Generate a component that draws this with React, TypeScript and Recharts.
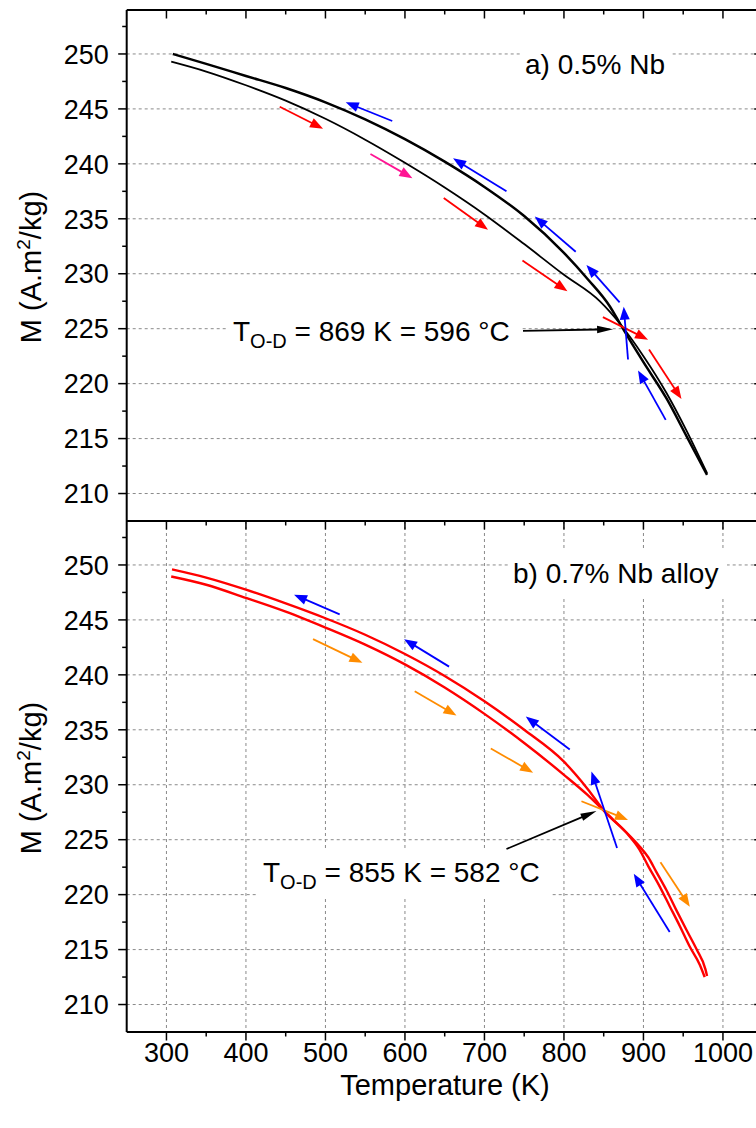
import React from 'react'
import { LineChart, Line, XAxis, YAxis, CartesianGrid, ReferenceLine } from 'recharts'

type Pt = [number, number]
type Seg = [Pt, Pt]

// M(T) loops, [temperature K, magnetisation A.m2/kg]
// a) 0.5% Nb
const heatingA: Pt[] = [
  [306, 249.3], [350, 248.4], [400, 247.15], [450, 245.75], [500, 244.1], [550, 242.2],
  [600, 240.1], [650, 237.85], [700, 235.4], [750, 232.7], [800, 229.9], [845, 227.5],
  [871, 225.4], [900, 222.5], [929, 219.15], [954, 215.75], [980, 211.85],
]
const coolingA: Pt[] = [
  [308, 250.0], [350, 249.1], [400, 248.0], [450, 246.9], [500, 245.6], [550, 244.05],
  [600, 242.25], [650, 240.2], [700, 237.9], [750, 235.25], [800, 231.9], [830, 229.5],
  [858, 227.0], [871, 225.4], [900, 221.95], [929, 218.65], [954, 215.25], [980, 211.7],
]

// b) 0.7% Nb alloy
const heatingB: Pt[] = [
  [306, 248.95], [350, 248.2], [400, 247.0], [450, 245.75], [500, 244.3], [550, 242.75],
  [600, 240.95], [650, 238.85], [700, 236.45], [750, 233.8], [800, 230.9], [830, 229.05],
  [852, 227.5], [878, 225.7], [895, 224.4], [906, 223.4], [916, 222.1], [929, 220.4],
  [942, 218.5], [954, 216.8], [967, 215.0], [978, 213.2], [980, 212.6],
]
const coolingB: Pt[] = [
  [307, 249.6], [350, 248.85], [400, 247.75], [450, 246.5], [500, 245.15], [550, 243.65],
  [600, 241.9], [650, 239.9], [700, 237.6], [750, 235.0], [800, 232.1], [830, 229.6],
  [852, 227.5], [879, 225.6], [895, 224.1], [906, 222.6], [920, 220.8], [933, 218.95],
  [946, 217.1], [958, 215.3], [971, 213.6], [977, 212.5],
]

// direction arrows, [from, to]
const redArrowsA: Seg[] = [
  [[442.5, 245.2], [497, 243.2]],
  [[648.8, 236.9], [704.5, 234.0]],
  [[747.8, 231.2], [804.4, 228.4]],
  [[849, 226.05], [905.8, 224.0]],
  [[907, 223.1], [947.8, 218.6]],
]
const pinkArrowsA: Seg[] = [[[556.6, 240.9], [609.4, 238.7]]]
const blueArrowsA: Seg[] = [
  [[584, 243.9], [525.5, 245.6]],
  [[727.7, 237.5], [660.5, 240.5]],
  [[814.8, 232.0], [763.3, 235.2]],
  [[870, 227.4], [828.3, 230.8]],
  [[880.6, 222.2], [875.2, 227.0]],
  [[928, 216.7], [893.2, 221.2]],
]
const pointerA: Seg[] = [[[748.5, 224.8], [861.8, 224.95]]]

const orangeArrowsB: Seg[] = [
  [[484.4, 243.25], [546.5, 241.1]],
  [[612.3, 238.5], [664.8, 236.3]],
  [[708, 233.3], [761.2, 231.1]],
  [[822, 228.5], [880.6, 226.8]],
  [[921.4, 222.95], [958.3, 218.9]],
]
const blueArrowsB: Seg[] = [
  [[517.9, 245.5], [460.5, 247.3]],
  [[655.5, 240.75], [598.9, 243.25]],
  [[807.3, 233.2], [752, 236.2]],
  [[866.8, 224.25], [834.6, 231.2]],
  [[933, 216.6], [887.8, 221.9]],
]
const pointerB: Seg[] = [[[727.7, 224.15], [840.9, 227.6]]]

const xDomain = [250, 1050]
const yDomain = [207.5, 254]
const xMajor = [300, 400, 500, 600, 700, 800, 900, 1000]
const xTicks = [300, 350, 400, 450, 500, 550, 600, 650, 700, 750, 800, 850, 900, 950, 1000]
const yMajor = [210, 215, 220, 225, 230, 235, 240, 245, 250]
const yTicks = [210, 212.5, 215, 217.5, 220, 222.5, 225, 227.5, 230, 232.5, 235, 237.5, 240, 242.5, 245, 247.5, 250, 252.5]

const FONT = "'Liberation Sans', Arial, sans-serif"
const CHART_W = 770

const toRows = (pts: Pt[]) => pts.map(([t, m]) => ({ t, m }))

const xTick = (labels: boolean) => (p: any) => {
  const v = p.payload.value
  const major = v % 100 === 0
  const len = major ? 8.5 : 4.5
  return (
    <g>
      <line x1={p.x} y1={p.y} x2={p.x} y2={p.y + len} stroke="#000" strokeWidth={1.5} />
      {labels && major && (
        <text x={p.x} y={p.y + 30} textAnchor="middle" fontSize={27} fontFamily={FONT} fill="#000">
          {v}
        </text>
      )}
    </g>
  )
}

const yTick = (labels: boolean) => (p: any) => {
  const v = p.payload.value
  const major = v % 5 === 0
  const len = major ? 8.5 : 4.5
  return (
    <g>
      <line x1={p.x} y1={p.y} x2={p.x - len} y2={p.y} stroke="#000" strokeWidth={1.5} />
      {labels && major && (
        <text x={p.x - 18} y={p.y} dy="0.36em" textAnchor="end" fontSize={27} fontFamily={FONT} fill="#000">
          {v}
        </text>
      )}
    </g>
  )
}

const arrowShape = (color: string, headLen: number, headHalf: number) => (p: any) => {
  const { x1, y1, x2, y2 } = p
  const dx = x2 - x1
  const dy = y2 - y1
  const L = Math.hypot(dx, dy) || 1
  const ux = dx / L
  const uy = dy / L
  const bx = x2 - ux * headLen
  const by = y2 - uy * headLen
  return (
    <g>
      <line x1={x1} y1={y1} x2={bx + ux} y2={by + uy} stroke={color} strokeWidth={1.8} />
      <polygon
        points={`${x2},${y2} ${bx - uy * headHalf},${by + ux * headHalf} ${bx + uy * headHalf},${by - ux * headHalf}`}
        fill={color}
      />
    </g>
  )
}

function arrowLines(segs: Seg[], color: string, prefix: string, headLen = 13, headHalf = 5) {
  return segs.map(([a, b], i) => (
    <ReferenceLine
      key={`${prefix}-${i}`}
      xAxisId="b"
      yAxisId="l"
      segment={[{ x: a[0], y: a[1] }, { x: b[0], y: b[1] }]}
      shape={arrowShape(color, headLen, headHalf)}
      ifOverflow="visible"
    />
  ))
}

interface PanelProps {
  height: number
  topH: number
  bottomH: number
  heating: Pt[]
  cooling: Pt[]
  curveColor: string
  heatWidth: number
  coolWidth: number
  bottomTicks: boolean
  children?: React.ReactNode
}

const axisLine = { stroke: '#000', strokeWidth: 2 }

function Panel({ height, topH, bottomH, heating, cooling, curveColor, heatWidth, coolWidth, bottomTicks, children }: PanelProps) {
  return (
    <LineChart width={CHART_W} height={height} margin={{ top: 0, right: 0, bottom: 0, left: 0 }}>
      <CartesianGrid
        xAxisId="b"
        yAxisId="l"
        verticalValues={xMajor}
        horizontalValues={yMajor}
        stroke="#8a8a8a"
        strokeDasharray="3 3"
        strokeWidth={1}
      />
      <XAxis
        xAxisId="t"
        orientation="top"
        dataKey="t"
        type="number"
        domain={xDomain}
        allowDataOverflow
        ticks={xTicks}
        interval={0}
        height={topH}
        tickSize={0}
        tickMargin={0}
        tickLine={false}
        tick={xTick(false)}
        axisLine={axisLine}
      />
      <XAxis
        xAxisId="b"
        orientation="bottom"
        dataKey="t"
        type="number"
        domain={xDomain}
        allowDataOverflow
        ticks={xTicks}
        interval={0}
        height={bottomH}
        tickSize={0}
        tickMargin={0}
        tickLine={false}
        tick={bottomTicks ? xTick(true) : false}
        axisLine={axisLine}
      />
      <YAxis
        yAxisId="l"
        orientation="left"
        type="number"
        domain={yDomain}
        allowDataOverflow
        ticks={yTicks}
        interval={0}
        width={126.7}
        tickSize={0}
        tickMargin={0}
        tickLine={false}
        tick={yTick(true)}
        axisLine={axisLine}
      />
      <YAxis
        yAxisId="r"
        orientation="right"
        type="number"
        domain={yDomain}
        allowDataOverflow
        ticks={yTicks}
        interval={0}
        width={7.3}
        tickSize={0}
        tickMargin={0}
        tickLine={false}
        tick={yTick(false)}
        axisLine={axisLine}
      />
      {/* transparent copy so the frame axes (top / right) get a series */}
      <Line
        xAxisId="t"
        yAxisId="r"
        data={toRows(heating)}
        dataKey="m"
        type="monotone"
        stroke="none"
        strokeOpacity={0}
        dot={false}
        activeDot={false}
        isAnimationActive={false}
      />
      <Line
        xAxisId="b"
        yAxisId="l"
        data={toRows(heating)}
        dataKey="m"
        type="monotone"
        stroke={curveColor}
        strokeWidth={heatWidth}
        dot={false}
        activeDot={false}
        isAnimationActive={false}
      />
      <Line
        xAxisId="b"
        yAxisId="l"
        data={toRows(cooling)}
        dataKey="m"
        type="monotone"
        stroke={curveColor}
        strokeWidth={coolWidth}
        dot={false}
        activeDot={false}
        isAnimationActive={false}
      />
      {children}
    </LineChart>
  )
}

const txt = { fontFamily: FONT, fill: '#000' }

export default function App() {
  return (
    <div
      style={{
        position: 'absolute',
        left: 0,
        top: 0,
        width: 756,
        height: 1128,
        overflow: 'hidden',
        background: '#fff',
      }}
    >
      <div style={{ position: 'absolute', left: 0, top: 0 }}>
        <Panel
          height={522}
          topH={10}
          bottomH={1}
          heating={heatingA}
          cooling={coolingA}
          curveColor="#000"
          heatWidth={1.8}
          coolWidth={2.5}
          bottomTicks={false}
        >
          {arrowLines(redArrowsA, '#ff0000', 'ra')}
          {arrowLines(pinkArrowsA, '#ff1493', 'pa')}
          {arrowLines(blueArrowsA, '#0000ff', 'ba')}
          {arrowLines(pointerA, '#000', 'ka', 16, 3.8)}
        </Panel>
      </div>
      <div style={{ position: 'absolute', left: 0, top: 520 }}>
        <Panel
          height={608}
          topH={1}
          bottomH={96}
          heating={heatingB}
          cooling={coolingB}
          curveColor="#ff0000"
          heatWidth={2.4}
          coolWidth={2.4}
          bottomTicks
        >
          {arrowLines(orangeArrowsB, '#ff8c00', 'ob')}
          {arrowLines(blueArrowsB, '#0000ff', 'bb')}
          {arrowLines(pointerB, '#000', 'kb', 16, 3.8)}
        </Panel>
      </div>
      <svg width={756} height={1128} style={{ position: 'absolute', left: 0, top: 0, pointerEvents: 'none' }}>
        <rect x={522} y={42} width={150} height={43} fill="#fff" />
        <text x={525} y={74} fontSize={28} {...txt}>a) 0.5% Nb</text>

        <rect x={510} y={550} width={217} height={47} fill="#fff" />
        <text x={513} y={583} fontSize={28} {...txt}>b) 0.7% Nb alloy</text>

        <rect x={228} y={310} width={292} height={47} fill="#fff" />
        <text x={233} y={341} fontSize={28} {...txt}>
          T<tspan fontSize={20} dy={7}>O-D</tspan>
          <tspan dy={-7}> = 869 K = 596 °C</tspan>
        </text>

        <rect x={258} y={851} width={292} height={48} fill="#fff" />
        <text x={263} y={882} fontSize={28} {...txt}>
          T<tspan fontSize={20} dy={7}>O-D</tspan>
          <tspan dy={-7}> = 855 K = 582 °C</tspan>
        </text>

        <text transform="translate(41,267) rotate(-90)" textAnchor="middle" fontSize={29} {...txt}>
          M (A.m<tspan fontSize={19} dy={-11}>2</tspan>
          <tspan dy={11}>/kg)</tspan>
        </text>
        <text transform="translate(41,778) rotate(-90)" textAnchor="middle" fontSize={29} {...txt}>
          M (A.m<tspan fontSize={19} dy={-11}>2</tspan>
          <tspan dy={11}>/kg)</tspan>
        </text>

        <text x={445} y={1095} textAnchor="middle" fontSize={29} {...txt}>Temperature (K)</text>
      </svg>
    </div>
  )
}
